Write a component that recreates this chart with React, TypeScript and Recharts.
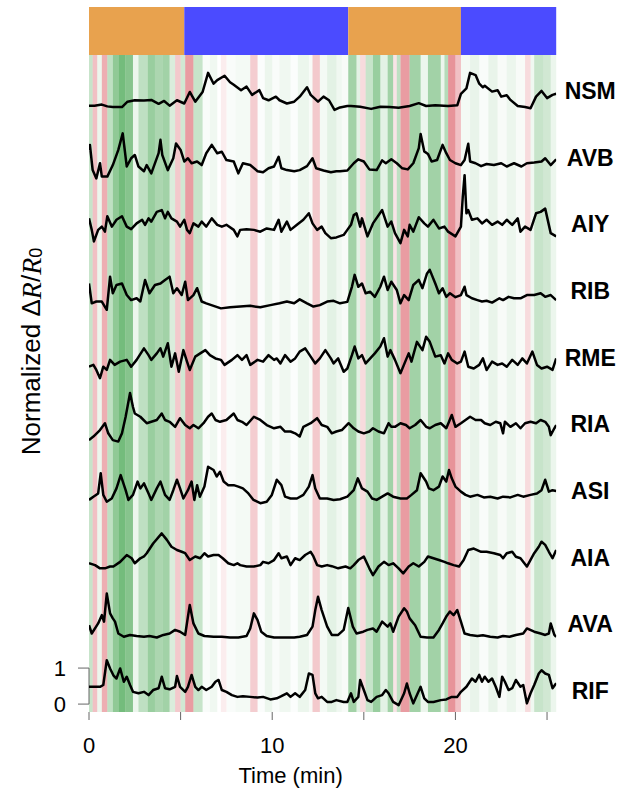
import React from 'react';
import { ComposedChart, Line, XAxis, YAxis, ReferenceArea, ReferenceLine } from 'recharts';

const FONT = '"Liberation Sans", Arial, Helvetica, sans-serif';

// ---------- neuron names (top to bottom) ----------
const traceNames = ['NSM', 'AVB', 'AIY', 'RIB', 'RME', 'RIA', 'ASI', 'AIA', 'AVA', 'RIF'];
const traceSpacing = 1.85; // vertical offset between stacked traces (in ΔR/R0 units)
const labelShift = 0.37;

// ---------- traces: [time (min), normalized ΔR/R0] ----------
const nsm: [number, number][] = [[0,-0.03],[0.3,-0.03],[0.7,0.0],[1.0,-0.05],[1.3,-0.07],[1.8,-0.07],[2.1,0.08],[2.5,0.12],[3.0,0.11],[3.4,0.13],[3.8,0.02],[4.1,0.1],[4.4,-0.03],[4.8,0.12],[5.2,0.03],[5.5,0.35],[5.8,0.08],[6.2,0.35],[6.5,0.88],[6.8,0.58],[7.0,0.68],[7.4,0.8],[7.7,0.62],[7.9,0.55],[8.3,0.4],[8.6,0.5],[8.9,0.27],[9.3,0.4],[9.5,0.18],[9.8,0.12],[10.2,0.22],[10.4,0.12],[10.8,0.03],[11.2,0.08],[11.5,0.22],[11.9,0.48],[12.1,0.27],[12.5,0.08],[12.8,0.22],[13.1,0.12],[13.4,-0.15],[13.7,-0.08],[14.1,-0.04],[14.3,-0.04],[14.8,-0.06],[15.4,-0.12],[15.9,-0.06],[16.4,-0.07],[16.9,-0.09],[17.5,-0.04],[18.0,0.04],[18.4,-0.04],[18.9,-0.02],[19.6,-0.04],[20.1,-0.02],[20.3,0.3],[20.6,0.45],[20.8,0.88],[21.1,0.82],[21.3,0.58],[21.5,0.48],[21.6,0.52],[22.0,0.36],[22.3,0.4],[22.5,0.22],[22.8,0.26],[23.0,0.13],[23.4,-0.04],[23.8,-0.07],[24.1,-0.1],[24.4,0.22],[24.7,0.38],[25.0,0.18],[25.3,0.27],[25.5,0.3]];
const avb: [number, number][] = [[0,0.59],[0.05,0.73],[0.2,0.03],[0.4,-0.2],[0.6,0.22],[0.7,-0.15],[1.0,-0.15],[1.3,0.17],[1.6,0.59],[1.84,1.05],[2.06,0.13],[2.3,0.36],[2.5,0.45],[2.7,0.13],[3.0,0.0],[3.15,0.17],[3.4,-0.06],[3.8,0.5],[3.9,0.87],[4.0,0.45],[4.3,0.03],[4.6,0.36],[4.75,0.77],[5.0,0.59],[5.2,0.27],[5.4,0.36],[5.6,0.22],[5.9,0.27],[6.15,0.17],[6.4,0.5],[6.7,0.73],[7.0,0.5],[7.25,0.54],[7.5,0.31],[7.9,0.27],[8.15,-0.06],[8.4,0.22],[8.8,0.17],[9.2,0.0],[9.5,-0.03],[9.8,0.08],[10.1,0.13],[10.35,0.4],[10.5,0.08],[10.8,0.03],[11.2,0.0],[11.5,0.03],[11.9,0.14],[12.2,0.36],[12.4,0.08],[12.8,0.02],[13.2,-0.03],[13.5,0.0],[13.7,0.0],[14.1,0.02],[14.45,0.22],[14.7,0.33],[15.0,0.27],[15.3,0.05],[15.7,0.03],[16.0,0.3],[16.2,0.22],[16.5,0.33],[16.8,0.22],[17.1,0.08],[17.4,0.05],[17.7,0.22],[18.0,0.64],[18.1,1.03],[18.3,0.55],[18.5,0.48],[18.7,0.27],[19.0,0.31],[19.3,0.73],[19.5,0.5],[19.7,0.31],[20.0,0.22],[20.3,0.17],[20.5,0.31],[20.7,0.76],[20.8,0.27],[21.1,0.22],[21.4,0.14],[21.7,0.2],[22.1,0.17],[22.5,0.22],[22.8,0.13],[23.2,0.22],[23.6,0.13],[23.9,0.22],[24.3,0.24],[24.7,0.27],[24.9,0.36],[25.2,0.17],[25.5,0.33]];
const aiy: [number, number][] = [[0,0.54],[0.15,0.22],[0.27,-0.1],[0.5,0.22],[0.7,0.31],[0.87,0.17],[1.0,0.6],[1.25,0.31],[1.5,0.5],[1.8,0.6],[2.06,0.31],[2.3,0.24],[2.6,0.4],[2.9,0.5],[3.06,0.36],[3.25,0.54],[3.4,0.45],[3.7,0.72],[3.97,0.77],[4.15,0.54],[4.3,0.72],[4.5,0.54],[4.8,0.45],[4.97,0.31],[5.2,0.5],[5.35,0.22],[5.5,0.13],[5.7,0.4],[5.97,0.31],[6.15,0.45],[6.4,0.31],[6.7,0.54],[7.0,0.36],[7.25,0.31],[7.5,0.36],[7.9,0.22],[8.1,0.04],[8.25,0.22],[8.6,0.24],[9.0,0.22],[9.35,0.17],[9.7,0.26],[10.1,0.22],[10.35,0.5],[10.5,0.17],[10.8,0.45],[11.0,0.22],[11.35,0.36],[11.7,0.5],[12.0,0.68],[12.2,0.4],[12.45,0.22],[12.7,0.31],[12.9,0.13],[13.2,-0.01],[13.5,0.01],[13.9,0.08],[14.1,0.22],[14.3,0.36],[14.45,0.63],[14.6,0.68],[14.8,0.31],[14.9,0.54],[15.2,0.04],[15.5,0.4],[16.0,0.77],[16.3,0.31],[16.5,0.45],[16.7,0.13],[17.0,-0.15],[17.2,0.22],[17.4,0.04],[17.5,0.36],[17.7,0.17],[18.0,0.57],[18.3,0.4],[18.5,0.31],[18.8,0.5],[19.1,0.26],[19.4,0.31],[19.6,0.17],[20.0,0.04],[20.3,0.31],[20.4,1.14],[20.5,1.74],[20.6,0.68],[20.7,0.77],[20.9,0.5],[21.2,0.54],[21.45,0.4],[21.7,0.5],[22.0,0.36],[22.3,0.45],[22.55,0.36],[22.8,0.5],[23.1,0.36],[23.4,0.54],[23.55,0.17],[23.8,0.31],[24.1,0.22],[24.4,0.68],[24.65,0.72],[24.9,0.81],[25.2,0.13],[25.5,0.04]];
const rib: [number, number][] = [[0,0.58],[0.15,0.03],[0.4,0.08],[0.7,0.08],[0.97,-0.15],[1.15,0.77],[1.3,0.31],[1.5,0.54],[1.8,0.58],[2.06,0.26],[2.3,0.12],[2.6,0.17],[2.8,0.08],[3.06,0.68],[3.3,0.31],[3.6,0.54],[3.9,0.58],[4.15,0.68],[4.4,0.77],[4.6,0.31],[4.8,0.45],[5.06,0.26],[5.25,0.63],[5.4,0.12],[5.7,0.26],[5.9,0.45],[6.15,0.08],[6.4,0.03],[6.8,-0.04],[7.2,-0.11],[7.7,-0.08],[8.25,-0.06],[8.8,-0.04],[9.35,-0.08],[9.9,-0.02],[10.4,0.03],[10.8,0.08],[11.2,0.03],[11.5,0.14],[11.9,0.03],[12.25,-0.06],[12.6,-0.02],[13.0,0.08],[13.35,0.1],[13.7,0.03],[14.1,0.07],[14.35,0.49],[14.5,0.82],[14.7,0.49],[14.9,0.58],[15.1,0.31],[15.35,0.35],[15.6,0.21],[15.9,0.49],[16.1,0.77],[16.3,0.4],[16.5,0.63],[16.8,0.4],[17.0,0.03],[17.2,0.26],[17.45,0.12],[17.7,0.54],[18.0,0.68],[18.2,0.45],[18.45,0.86],[18.6,0.96],[18.9,0.58],[19.1,0.31],[19.3,0.45],[19.5,0.21],[19.7,0.31],[20.0,0.2],[20.3,0.26],[20.5,0.49],[20.6,0.26],[20.9,0.17],[21.2,0.12],[21.45,0.08],[21.7,0.1],[22.0,0.05],[22.4,0.17],[22.6,0.12],[22.9,0.21],[23.2,0.17],[23.55,0.17],[23.9,0.26],[24.3,0.26],[24.65,0.31],[24.9,0.21],[25.2,0.26],[25.5,0.12]];
const rme: [number, number][] = [[0,0.12],[0.24,0.17],[0.4,0.03],[0.6,-0.2],[0.78,0.12],[0.97,0.03],[1.15,0.31],[1.4,0.17],[1.7,0.26],[2.06,0.31],[2.3,0.12],[2.6,0.31],[3.0,0.63],[3.25,0.44],[3.4,0.31],[3.7,0.49],[3.9,0.63],[4.05,0.4],[4.3,0.77],[4.5,0.12],[4.7,0.49],[4.9,-0.02],[5.15,0.58],[5.35,0.26],[5.5,0.03],[5.8,0.4],[6.07,0.49],[6.35,0.58],[6.6,0.44],[6.9,0.35],[7.2,0.31],[7.4,0.17],[7.8,0.31],[8.1,0.44],[8.35,0.31],[8.6,0.44],[8.8,0.17],[9.2,0.31],[9.5,0.26],[9.8,0.44],[10.1,0.31],[10.25,0.35],[10.45,0.21],[10.7,0.44],[11.0,0.26],[11.25,0.35],[11.5,0.54],[11.8,0.63],[12.1,0.4],[12.35,0.21],[12.6,0.35],[12.9,0.58],[13.2,0.35],[13.35,0.21],[13.6,0.35],[13.9,-0.02],[14.1,0.07],[14.35,0.44],[14.5,0.68],[14.7,0.35],[14.9,0.44],[15.1,0.21],[15.35,0.35],[15.6,0.49],[15.9,0.68],[16.1,0.91],[16.3,0.4],[16.45,0.58],[16.7,0.31],[17.0,-0.06],[17.3,0.31],[17.45,0.49],[17.6,0.26],[17.9,0.81],[18.2,0.58],[18.4,0.95],[18.6,0.81],[18.9,0.4],[19.2,0.44],[19.4,0.21],[19.6,0.49],[19.8,0.31],[20.1,0.21],[20.3,0.26],[20.5,0.54],[20.7,0.12],[21.0,0.07],[21.3,0.17],[21.5,0.35],[21.7,0.03],[22.0,0.26],[22.3,0.17],[22.55,0.21],[22.8,0.12],[23.1,0.31],[23.4,0.17],[23.65,0.35],[23.9,0.21],[24.2,0.54],[24.45,0.17],[24.7,0.07],[25.0,0.12],[25.3,0.03],[25.5,0.35]];
const ria: [number, number][] = [[0,-0.07],[0.24,0.03],[0.6,0.21],[0.87,0.4],[1.05,0.12],[1.3,-0.07],[1.6,-0.11],[1.8,0.12],[2.0,0.58],[2.24,1.24],[2.4,0.85],[2.5,0.67],[2.8,0.58],[3.15,0.4],[3.4,0.44],[3.7,0.49],[3.97,0.67],[4.15,0.49],[4.4,0.44],[4.7,0.3],[4.97,0.54],[5.25,0.35],[5.5,0.26],[5.7,0.35],[5.97,0.26],[6.25,0.4],[6.5,0.58],[6.7,0.67],[6.9,0.49],[7.15,0.44],[7.5,0.49],[7.9,0.67],[8.1,0.49],[8.35,0.44],[8.6,0.35],[9.0,0.58],[9.35,0.49],[9.7,0.35],[10.1,0.26],[10.45,0.3],[10.7,0.17],[11.0,0.17],[11.25,0.12],[11.5,0.03],[11.7,0.3],[12.1,0.4],[12.45,0.54],[12.7,0.35],[13.0,0.3],[13.25,0.12],[13.5,0.17],[13.8,0.21],[14.17,0.4],[14.45,0.26],[14.7,0.17],[15.0,0.12],[15.3,0.17],[15.5,0.26],[15.8,0.17],[16.1,0.12],[16.35,0.4],[16.5,0.3],[16.7,0.3],[17.0,0.4],[17.3,0.35],[17.5,0.26],[17.8,0.35],[18.1,0.49],[18.4,0.3],[18.6,0.26],[18.9,0.35],[19.2,0.4],[19.5,0.26],[19.65,0.44],[19.8,0.63],[20.0,0.3],[20.3,0.4],[20.55,0.49],[20.8,0.58],[21.1,0.49],[21.4,0.49],[21.6,0.4],[21.9,0.35],[22.2,0.44],[22.45,0.4],[22.6,0.12],[22.7,0.44],[23.0,0.3],[23.3,0.4],[23.55,0.26],[23.8,0.4],[24.1,0.44],[24.4,0.4],[24.65,0.49],[24.9,0.44],[25.1,0.3],[25.2,0.07],[25.4,0.26],[25.5,0.35]];
const asi: [number, number][] = [[0,0.12],[0.24,0.21],[0.5,0.3],[0.64,0.86],[0.78,0.26],[0.97,0.07],[1.24,0.16],[1.5,0.44],[1.73,0.81],[2.0,0.39],[2.15,0.12],[2.4,0.26],[2.65,0.63],[2.8,0.44],[3.0,0.58],[3.25,0.3],[3.4,0.12],[3.7,0.44],[3.9,0.63],[4.15,0.26],[4.4,0.12],[4.6,0.39],[4.8,0.68],[4.97,0.44],[5.15,0.16],[5.4,0.39],[5.6,0.63],[5.75,0.12],[5.9,0.53],[6.05,0.21],[6.3,0.49],[6.5,1.04],[6.8,0.95],[6.97,0.77],[7.15,0.9],[7.35,0.63],[7.6,0.53],[7.9,0.53],[8.15,0.49],[8.4,0.44],[8.7,0.3],[8.98,0.12],[9.35,0.03],[9.7,0.07],[9.98,0.26],[10.25,0.68],[10.5,0.53],[10.7,0.21],[11.0,0.16],[11.35,0.16],[11.7,0.26],[12.0,0.49],[12.2,0.81],[12.35,0.44],[12.6,0.16],[13.0,0.16],[13.35,0.12],[13.7,0.14],[14.1,0.21],[14.45,0.39],[14.67,0.72],[14.9,0.44],[15.2,0.35],[15.45,0.16],[15.7,0.12],[16.0,0.21],[16.3,0.3],[16.6,0.21],[17.0,0.16],[17.35,0.16],[17.6,0.26],[17.9,0.39],[18.1,0.86],[18.4,0.63],[18.55,0.44],[18.8,0.39],[19.1,0.49],[19.3,0.77],[19.5,0.63],[19.65,0.95],[19.8,0.72],[20.0,0.49],[20.3,0.35],[20.55,0.26],[20.8,0.21],[21.2,0.26],[21.55,0.19],[21.9,0.21],[22.3,0.16],[22.6,0.21],[23.0,0.19],[23.4,0.26],[23.7,0.21],[24.1,0.26],[24.45,0.3],[24.7,0.39],[24.9,0.68],[25.1,0.35],[25.3,0.39],[25.5,0.37]];
const aia: [number, number][] = [[0,0.21],[0.33,0.16],[0.6,0.07],[0.87,0.07],[1.15,0.12],[1.33,0.12],[1.7,0.25],[2.06,0.44],[2.33,0.35],[2.5,0.21],[2.8,0.35],[3.0,0.4],[3.15,0.49],[3.5,0.76],[3.97,1.04],[4.25,0.86],[4.5,0.67],[4.8,0.58],[5.06,0.53],[5.25,0.49],[5.5,0.3],[5.8,0.4],[6.07,0.35],[6.3,0.49],[6.5,0.4],[6.8,0.44],[7.07,0.44],[7.3,0.35],[7.6,0.21],[7.9,0.16],[8.1,0.21],[8.25,0.16],[8.6,0.12],[9.0,0.12],[9.35,0.16],[9.5,0.25],[9.8,0.21],[10.1,0.3],[10.35,0.49],[10.5,0.35],[10.8,0.4],[11.0,0.16],[11.25,0.35],[11.5,0.3],[11.8,0.44],[12.1,0.53],[12.25,0.4],[12.45,0.16],[12.7,0.12],[13.0,0.16],[13.25,0.13],[13.6,0.07],[14.0,0.12],[14.26,0.07],[14.45,0.16],[14.7,0.3],[15.0,0.4],[15.3,0.07],[15.5,-0.12],[15.8,0.12],[16.1,0.25],[16.35,0.16],[16.6,0.21],[16.9,0.07],[17.15,-0.07],[17.45,0.12],[17.7,0.21],[18.0,0.12],[18.3,0.25],[18.5,0.4],[18.8,0.35],[19.1,0.3],[19.4,0.25],[19.6,0.21],[19.9,0.16],[20.2,0.12],[20.45,0.3],[20.7,0.58],[21.0,0.62],[21.4,0.53],[21.7,0.53],[22.1,0.49],[22.45,0.44],[22.6,0.35],[22.8,0.49],[23.1,0.53],[23.3,0.39],[23.55,0.35],[23.9,0.12],[24.3,0.49],[24.55,0.67],[24.7,0.81],[24.9,0.72],[25.1,0.53],[25.3,0.35],[25.5,0.58]];
const ava: [number, number][] = [[0,0.34],[0.15,0.11],[0.5,0.39],[0.7,0.62],[0.82,0.44],[0.97,1.22],[1.15,0.67],[1.3,0.53],[1.42,0.44],[1.6,0.11],[1.9,0.02],[2.24,0.07],[2.6,0.04],[3.0,0.02],[3.3,0.04],[3.7,0.0],[4.06,0.07],[4.4,0.11],[4.7,0.21],[4.97,0.16],[5.25,0.07],[5.4,0.58],[5.5,0.9],[5.7,0.39],[5.97,0.11],[6.3,0.04],[6.8,0.02],[7.25,0.02],[7.7,0.0],[8.15,0.0],[8.6,0.04],[8.8,0.25],[9.0,0.67],[9.2,0.48],[9.4,0.16],[9.7,0.04],[10.1,0.0],[10.4,0.0],[10.8,0.0],[11.2,0.0],[11.5,0.02],[11.9,0.07],[12.2,0.3],[12.35,0.76],[12.5,1.13],[12.7,0.76],[13.0,0.3],[13.25,0.07],[13.6,0.07],[13.9,0.21],[14.15,0.82],[14.4,0.3],[14.6,0.11],[14.97,0.16],[15.2,0.21],[15.5,0.25],[15.7,0.16],[16.0,0.44],[16.3,0.3],[16.45,0.39],[16.6,0.16],[16.9,0.58],[17.2,0.81],[17.35,0.72],[17.5,0.53],[17.8,0.34],[18.1,0.02],[18.45,0.0],[18.8,0.0],[19.1,0.21],[19.3,0.39],[19.5,0.58],[19.7,0.72],[19.9,0.62],[20.1,0.76],[20.3,0.44],[20.5,0.11],[20.8,0.07],[21.2,0.04],[21.5,0.06],[21.9,0.02],[22.3,0.0],[22.6,0.04],[22.95,0.02],[23.3,0.07],[23.7,0.11],[23.9,0.25],[24.3,0.16],[24.65,0.11],[24.9,0.07],[25.1,0.11],[25.2,0.39],[25.4,0.07],[25.5,0.02]];
const rif: [number, number][] = [[0,0.48],[0.24,0.48],[0.6,0.48],[0.78,0.53],[0.97,1.22],[1.15,0.99],[1.33,0.8],[1.5,0.71],[1.7,0.99],[1.9,0.62],[2.06,0.76],[2.24,0.53],[2.4,0.34],[2.7,0.3],[3.0,0.34],[3.25,0.25],[3.5,0.39],[3.8,0.44],[3.97,0.76],[4.15,0.44],[4.4,0.41],[4.7,0.48],[4.8,0.78],[4.97,0.48],[5.25,0.34],[5.4,0.48],[5.6,0.81],[5.8,0.48],[5.97,0.39],[6.15,0.48],[6.4,0.39],[6.7,0.48],[6.9,0.62],[7.07,0.67],[7.25,0.39],[7.5,0.34],[7.8,0.25],[8.1,0.2],[8.4,0.22],[8.8,0.2],[9.2,0.18],[9.5,0.2],[9.9,0.13],[10.25,0.16],[10.5,0.22],[10.8,0.3],[11.0,0.2],[11.25,0.3],[11.5,0.2],[11.8,0.39],[12.0,0.85],[12.2,0.81],[12.35,0.3],[12.5,0.16],[12.7,0.2],[13.0,0.06],[13.25,0.06],[13.5,0.11],[13.9,0.06],[14.1,0.06],[14.3,0.3],[14.45,0.06],[14.7,0.2],[14.8,0.67],[15.0,0.39],[15.2,0.11],[15.4,0.06],[15.7,0.2],[16.0,0.25],[16.2,0.39],[16.35,0.3],[16.6,0.06],[16.9,-0.03],[17.2,0.3],[17.35,0.57],[17.5,0.3],[17.7,0.02],[17.9,0.25],[18.1,0.48],[18.3,0.16],[18.5,0.06],[18.8,0.06],[19.2,0.11],[19.5,0.13],[19.8,0.2],[20.1,0.2],[20.3,0.34],[20.6,0.48],[20.9,0.71],[21.1,0.62],[21.3,0.81],[21.45,0.62],[21.6,0.76],[21.8,0.62],[22.0,0.71],[22.2,0.48],[22.4,0.2],[22.55,0.76],[22.7,0.62],[22.9,0.39],[23.1,0.44],[23.3,0.67],[23.55,0.48],[23.7,0.53],[23.9,0.02],[24.1,0.3],[24.3,0.53],[24.55,0.85],[24.7,0.94],[24.9,0.85],[25.1,0.81],[25.3,0.44],[25.5,0.58]];

const traceData = [nsm, avb, aiy, rib, rme, ria, asi, aia, ava, rif];

// ---------- stimulus phases (top bar) ----------
const phaseStarts = [0, 5.2, 14.15, 20.3];
const phaseEnds = [5.2, 14.15, 20.3, 25.5];
const phaseColors = ['#E8A24E', '#4B4BFF', '#E8A24E', '#4B4BFF'];

// ---------- behaviour background bands (positive = forward/green, negative = reversal/red) ----------
const bandStarts = [0, 0.2, 0.45, 0.7, 1.0, 1.3, 1.6, 2.0, 2.4, 2.7, 3.2, 3.6, 4.0, 4.4, 4.7, 5.0, 5.25, 5.7, 6.2, 6.6, 7.0, 7.2, 7.5, 8.0, 8.8, 9.2, 9.6, 10.0, 10.4, 11.0, 11.4, 12.0, 12.2, 12.6, 13.0, 13.5, 13.8, 14.15, 14.6, 14.8, 15.1, 15.5, 15.9, 16.3, 16.6, 16.8, 17.0, 17.5, 18.1, 18.5, 19.2, 19.4, 19.6, 20.0, 20.3, 20.8, 21.3, 21.8, 22.3, 22.8, 23.3, 23.8, 24.1, 24.3, 24.8, 25.2];
const bandLevels = [0.3, -0.35, 0.1, -0.45, 0.35, 0.6, 0.75, 0.65, 0.1, 0.35, 0.55, 0.45, 0.5, 0.2, -0.3, 0.25, -0.55, 0.3, 0.03, 0.08, 0.0, -0.1, 0.03, 0.06, -0.28, 0.02, 0.1, 0.03, 0.08, 0.02, 0.1, 0.04, -0.3, 0.06, 0.15, 0.08, 0.04, 0.5, 0.15, -0.2, 0.3, 0.55, 0.15, 0.5, -0.15, 0.35, -0.55, 0.5, 0.1, 0.5, 0.1, 0.4, -0.6, -0.35, 0.06, 0.12, 0.03, 0.12, 0.04, 0.1, 0.04, -0.2, 0.08, 0.3, 0.25, 0.1];
const timeEnd = 25.5;

// ---------- axes ----------
const xTicks = [0, 5, 10, 15, 20, 25];
const xTickLabels = ['0', '', '10', '', '20', ''];
const yTicks = [0, 1];
const Y_MIN = -0.22;
const Y_MAX = 19.36;
const STRIPE_TOP = 18.03;

const nTraces = traceNames.length;
const offsetOf = (i: number) => (nTraces - 1 - i) * traceSpacing;
const labelTicks = traceNames.map((_, i) => offsetOf(i) + labelShift);

const bandColor = (lvl: number) => (lvl >= 0 ? 'rgb(70,165,80)' : 'rgb(215,75,85)');

const NameTick = (props: any) => {
  const { x, y, index } = props;
  return (
    <text x={x} y={y} textAnchor="middle" dominantBaseline="central" fontFamily={FONT} fontWeight="bold" fontSize={23} fill="#000">
      {traceNames[index]}
    </text>
  );
};

const MATH = '"Liberation Serif", "DejaVu Serif", serif';

const YTitle = (props: any) => {
  const { viewBox } = props;
  const cx = viewBox.x + 2;
  const cy = viewBox.y + viewBox.height / 2 - 8;
  return (
    <text x={cx} y={cy} transform={`rotate(-90, ${cx}, ${cy})`} textAnchor="middle" dominantBaseline="central" fontFamily={FONT} fontSize={26} fill="#000">
      <tspan>Normalized Δ</tspan>
      <tspan fontStyle="italic" fontFamily={MATH} fontSize={28}>R</tspan>
      <tspan>/</tspan>
      <tspan fontStyle="italic" fontFamily={MATH} fontSize={28}>R</tspan>
      <tspan fontSize={18} dy={5}>0</tspan>
    </text>
  );
};

const XTitle = (props: any) => {
  const { viewBox } = props;
  const cx = viewBox.x + viewBox.width / 2 - 32;
  const cy = viewBox.y + 63;
  return (
    <text x={cx} y={cy} textAnchor="middle" dominantBaseline="central" fontFamily={FONT} fontSize={22} fill="#000">
      Time (min)
    </text>
  );
};

export default function App() {
  return (
    <div style={{ position: 'absolute', left: 0, top: 0, background: '#fff' }}>
      <ComposedChart width={622} height={801} margin={{ top: 7, right: 5.8, bottom: 0, left: 29 }} style={{ fontFamily: FONT }}>
        <XAxis
          xAxisId="x"
          type="number"
          dataKey="t"
          domain={[0, timeEnd]}
          ticks={xTicks}
          tickFormatter={(v: number) => xTickLabels[xTicks.indexOf(v)] ?? ''}
          allowDataOverflow
          axisLine={false}
          tickSize={8}
          tickMargin={17}
          tickLine={{ stroke: '#666', strokeWidth: 1 }}
          tick={{ fontSize: 22, fill: '#000', fontFamily: FONT }}
          height={89}
          label={{ content: XTitle }}
        />
        <YAxis
          yAxisId="left"
          type="number"
          domain={[Y_MIN, Y_MAX]}
          ticks={yTicks}
          allowDataOverflow
          axisLine={false}
          tickSize={11}
          tickMargin={12}
          tickLine={{ stroke: '#666', strokeWidth: 1 }}
          tick={{ fontSize: 22, fill: '#000', fontFamily: FONT }}
          width={60}
          label={{ content: YTitle }}
        />
        <YAxis
          yAxisId="right"
          orientation="right"
          type="number"
          domain={[Y_MIN, Y_MAX]}
          ticks={labelTicks}
          allowDataOverflow
          axisLine={false}
          tickLine={false}
          tickSize={0}
          tickMargin={34}
          tick={<NameTick />}
          width={60}
        />
        {bandStarts.map((s, i) => (
          <ReferenceArea
            key={`band-${i}`}
            xAxisId="x"
            yAxisId="left"
            x1={s}
            x2={i + 1 < bandStarts.length ? bandStarts[i + 1] : timeEnd}
            y1={Y_MIN}
            y2={STRIPE_TOP}
            fill={bandColor(bandLevels[i])}
            fillOpacity={Math.abs(bandLevels[i])}
            stroke="none"
            ifOverflow="visible"
          />
        ))}
        {phaseStarts.map((s, i) => (
          <ReferenceArea
            key={`phase-${i}`}
            xAxisId="x"
            yAxisId="left"
            x1={s}
            x2={phaseEnds[i]}
            y1={STRIPE_TOP}
            y2={Y_MAX}
            fill={phaseColors[i]}
            fillOpacity={1}
            stroke="none"
            ifOverflow="visible"
          />
        ))}
        <ReferenceLine
          xAxisId="x"
          yAxisId="left"
          segment={[{ x: 0, y: 0 }, { x: 0, y: 1 }]}
          stroke="#666"
          strokeWidth={1}
          ifOverflow="visible"
        />
        {traceData.map((arr, i) => (
          <Line
            key={traceNames[i]}
            xAxisId="x"
            yAxisId="left"
            data={arr.map(([t, v]) => ({ t, y: v + offsetOf(i) }))}
            dataKey="y"
            type="linear"
            stroke="#000"
            strokeWidth={2.5}
            strokeLinejoin="round"
            dot={false}
            activeDot={false}
            isAnimationActive={false}
          />
        ))}
      </ComposedChart>
    </div>
  );
}
